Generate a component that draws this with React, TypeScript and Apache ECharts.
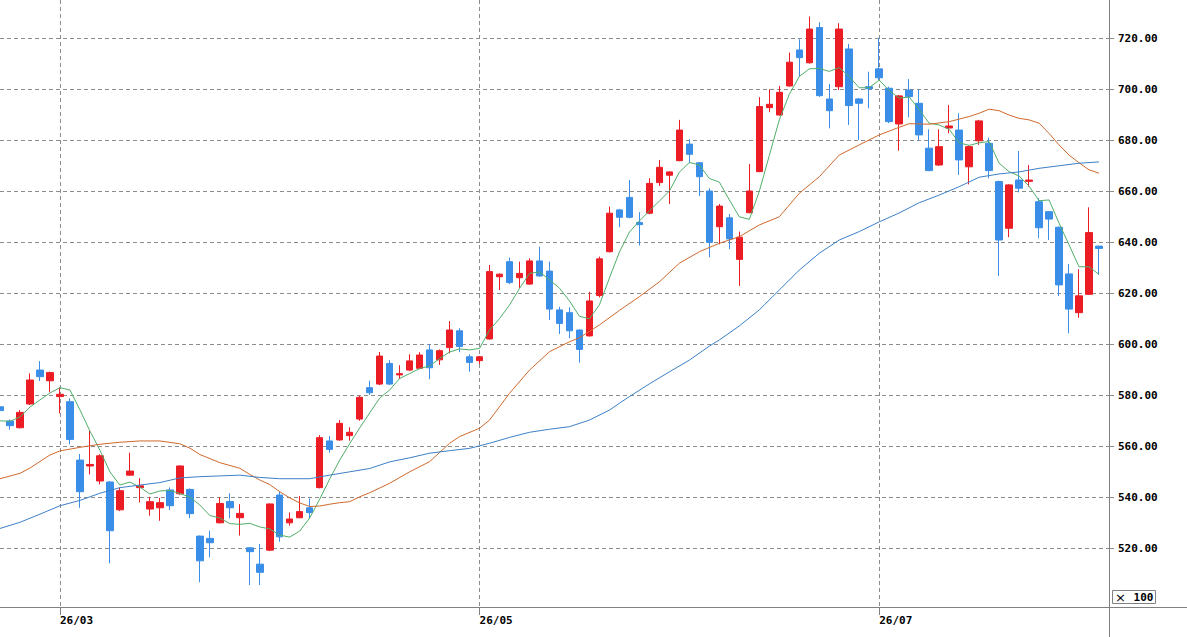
import React, { useEffect, useRef } from "react";
import * as echarts from "echarts";

// Candle data (index 0 is the partially visible candle at the left edge)
const open = [575.5,569.9,567.3,576.6,589.9,585.7,579.5,577.5,554.6,552.3,546.4,546.0,535.1,548.7,543.8,535.4,535.9,542.9,541.4,543.1,524.8,523.9,530.0,538.4,532.0,520.2,513.8,519.3,540.9,530.0,532.0,535.9,543.8,562.1,562.5,564.2,570.7,583.0,584.4,592.5,588.0,589.9,590.6,597.8,593.9,598.7,605.3,595.1,593.6,602.1,626.5,632.4,626.1,623.6,632.7,628.7,613.5,612.4,605.6,603.3,619.1,636.3,652.7,657.6,647.8,651.4,663.4,666.3,672.0,678.5,671.2,660.1,646.1,649.6,633.3,651.6,667.7,692.8,689.9,701.3,715.4,710.4,724.2,696.2,701.0,715.8,696.2,701.0,708.0,700.4,686.4,699.7,694.5,676.9,670.3,684.8,684.0,669.6,679.8,678.8,663.8,645.5,664.4,663.9,655.9,652.0,645.9,627.6,612.4,619.6,638.5];
const close = [574.0,568.1,573.3,586.0,587.3,588.9,580.4,562.7,542.2,552.9,556.3,526.9,542.6,550.3,544.5,538.3,537.9,536.7,552.3,533.6,515.1,522.2,537.6,535.9,533.7,518.7,510.6,537.4,524.5,531.5,534.4,534.0,563.4,558.8,569.0,565.5,579.2,581.0,595.4,584.4,588.5,593.5,595.8,590.8,597.5,605.6,599.1,592.9,595.1,628.5,627.5,624.2,627.8,632.7,626.8,613.8,608.2,605.3,598.0,617.0,633.5,651.4,649.8,649.8,646.9,663.1,669.4,667.6,684.0,674.5,665.7,640.0,654.2,641.3,642.0,660.1,693.2,694.1,698.8,710.6,712.4,723.6,697.5,691.6,723.6,693.6,694.5,700.2,704.5,687.3,697.4,697.1,682.1,668.1,677.5,685.6,672.3,677.5,687.6,668.1,640.9,662.5,661.2,664.4,645.7,649.1,623.3,613.8,619.0,643.8,637.6];
const low = [573.0,566.5,567.0,576.2,585.6,581.2,572.9,560.8,535.9,549.0,545.1,514.1,534.6,548.5,538.0,532.8,530.8,535.0,541.0,531.8,506.7,516.5,529.8,531.8,525.0,505.6,505.6,518.9,522.6,528.9,531.8,531.8,543.5,557.5,562.2,562.2,570.0,580.1,584.0,584.0,586.4,589.5,590.2,586.3,591.9,596.5,596.9,589.3,592.3,601.8,621.3,623.6,622.0,623.3,626.5,609.5,604.0,602.4,592.8,603.0,618.4,636.0,645.9,649.4,638.7,651.0,662.1,655.0,671.8,671.0,658.2,634.1,639.2,637.3,622.9,651.4,667.5,691.0,689.7,701.0,704.9,710.0,697.0,684.7,699.7,686.0,680.1,692.5,703.6,686.7,675.9,689.0,680.1,667.9,670.0,682.7,666.4,662.7,678.2,665.1,626.8,642.0,659.6,661.8,641.6,640.9,618.9,604.3,610.4,619.4,627.2];
const high = [576.0,570.5,574.2,588.6,593.4,589.3,583.1,578.8,557.0,566.4,556.9,546.4,543.8,557.5,547.5,540.2,539.8,543.9,552.5,543.5,525.0,526.9,540.0,541.6,537.3,520.4,521.7,537.6,542.2,534.1,540.5,539.6,564.4,564.0,570.3,567.5,579.8,585.7,597.0,593.8,591.8,596.1,596.9,600.0,598.0,609.1,606.3,596.1,595.5,631.1,627.8,634.0,632.4,633.7,638.3,632.4,614.7,614.5,605.8,620.6,634.4,654.0,653.1,664.4,651.8,665.1,672.3,667.8,688.0,680.4,671.4,661.2,655.0,651.1,644.2,670.7,696.9,700.0,701.3,714.4,719.6,728.5,726.3,702.1,725.9,717.8,696.5,706.9,720.2,701.0,697.8,704.0,700.0,684.3,684.3,693.8,690.6,678.0,688.0,681.0,664.2,662.8,675.8,670.3,657.3,652.2,646.2,631.5,629.4,653.7,638.6];

// Short moving average (green), one value per candle
const maShort = [570.0,569.8,571.5,575.4,578.2,580.9,583.0,582.1,574.3,566.0,558.5,550.0,544.8,546.0,544.0,541.3,542.5,542.7,541.5,540.1,537.0,532.9,531.9,529.7,529.4,529.8,528.4,527.6,525.2,524.4,526.8,531.9,539.3,547.2,554.6,561.0,567.2,573.1,578.9,582.1,586.6,588.5,590.5,591.5,594.4,597.0,598.2,597.8,598.4,605.6,610.1,615.4,621.9,627.8,628.4,625.3,622.0,617.0,611.0,610.0,615.5,626.0,636.2,644.0,648.4,652.3,656.2,660.1,667.5,671.3,670.3,665.0,663.6,656.6,650.0,649.0,660.0,674.0,688.0,698.0,705.0,708.0,708.2,707.0,708.5,705.0,700.6,700.6,703.6,699.5,696.5,697.0,692.0,686.7,686.0,684.3,679.0,678.0,679.0,679.5,671.0,667.7,666.0,662.0,656.3,656.6,647.5,639.0,630.4,630.4,627.4];

// Medium moving average (orange), read at candle indices
const maMidIdx = [0,2,3,5,6,8,10,12,14,16,18,19,20,22,24,25,26,27,28,29,30,31,32,33,34,35,36,37,39,41,43,45,46,48,49,51,53,55,57,58,60,62,64,66,68,70,72,74,76,78,80,82,84,86,88,90,91,93,95,97,98,99,100,101,102,103,104,105,106,107,108,109,110];
const maMidVal = [547.3,549.4,551.5,556.6,558.2,559.6,560.8,561.6,562.1,562.1,561.0,559.3,556.8,553.6,551.4,549.0,546.8,545.0,542.2,539.8,537.8,536.4,536.6,537.3,537.9,538.3,540.2,541.8,545.5,550.0,554.0,561.2,563.8,567.1,570.3,580.8,589.9,597.1,601.0,602.6,607.6,613.3,618.7,624.5,631.8,636.3,639.6,642.2,646.8,650.0,659.2,665.7,674.2,678.2,682.1,685.1,686.5,686.3,687.3,689.3,690.6,692.2,691.6,689.9,688.6,688.0,686.7,682.7,678.2,674.2,671.2,668.4,667.1];

// Long moving average (blue), read at candle indices
const maLongIdx = [0,2,4,6,8,10,12,14,16,18,20,22,24,26,28,31,33,35,37,39,41,43,45,47,49,51,53,55,57,59,61,62,63,65,67,69,71,72,74,76,78,80,82,84,86,88,90,92,94,96,98,100,102,104,106,108,110];
const maLongVal = [527.8,530.2,533.4,536.7,538.8,541.6,543.8,544.8,545.8,547.6,548.1,548.4,548.7,547.8,547.3,547.3,548.7,550.0,551.3,553.9,555.5,557.3,558.3,559.2,561.2,563.5,565.5,566.7,567.7,570.3,574.2,576.9,579.5,584.5,589.2,593.8,599.3,601.7,607.2,613.5,621.3,629.1,635.7,640.9,644.2,648.0,651.5,655.5,658.5,661.8,665.5,666.8,667.6,669.0,670.0,671.0,671.5];

// Axis ticks
const yTicks = [520, 540, 560, 580, 600, 620, 640, 660, 680, 700, 720];
const xTickIdx = [6, 48, 88];
const xTickLabels = ["26/03", "26/05", "26/07"];
const categoryCount = 112;

const RED = "#ec1c24";
const BLUE = "#3a8ee8";
const GRID = "#8c8c8c";
const AXIS = "#808080";
const FONT = "'DejaVu Sans Mono', monospace";

export default function App() {
  const ref = useRef<HTMLDivElement>(null);
  useEffect(() => {
    if (!ref.current) return;
    const chart = echarts.init(ref.current, null, { renderer: "svg" });
    const categories = Array.from({ length: categoryCount }, (_, i) => String(i));
    const candles = open.map((o, i) => [o, close[i], low[i], high[i]]);
    const isTick = (i: number) => xTickIdx.indexOf(i) >= 0;
    chart.setOption({
      animation: false,
      backgroundColor: "#ffffff",
      grid: { left: -1, right: 78, top: 0, bottom: 30 },
      xAxis: {
        type: "category",
        data: categories,
        boundaryGap: false,
        axisLine: { show: true, lineStyle: { color: AXIS, width: 1 } },
        axisTick: { show: true, interval: (i: number) => isTick(i), length: 8, lineStyle: { color: AXIS } },
        axisLabel: {
          interval: (i: number) => isTick(i),
          formatter: (v: string) => {
            const k = xTickIdx.indexOf(Number(v));
            return k >= 0 ? xTickLabels[k] : "";
          },
          align: "left",
          margin: 8,
          fontFamily: FONT,
          fontWeight: "bold",
          fontSize: 11,
          color: "#000",
        },
        splitLine: { show: true, interval: (i: number) => isTick(i), lineStyle: { color: GRID, type: [4, 3], width: 1 } },
      },
      yAxis: {
        type: "value",
        position: "right",
        min: 497,
        max: 735,
        scale: true,
        axisLine: { show: true, lineStyle: { color: AXIS, width: 1 } },
        axisTick: { show: true, customValues: yTicks, length: 5, lineStyle: { color: GRID } },
        axisLabel: {
          customValues: yTicks,
          formatter: (v: number) => v.toFixed(2),
          margin: 9,
          fontFamily: FONT,
          fontWeight: "bold",
          fontSize: 11,
          color: "#000",
        },
        splitLine: { show: true, lineStyle: { color: GRID, type: [4, 3], width: 1 } },
      },
      series: [
        {
          type: "candlestick",
          data: candles,
          barWidth: 7,
          itemStyle: { color: RED, color0: BLUE, borderColor: RED, borderColor0: BLUE, borderWidth: 1 },
        },
        {
          type: "line",
          data: maShort.map((v, i) => [i, v]),
          symbol: "none",
          lineStyle: { color: "#4fae68", width: 1 },
          z: 3,
        },
        {
          type: "line",
          data: maMidIdx.map((k, i) => [k, maMidVal[i]]),
          symbol: "none",
          lineStyle: { color: "#d0692c", width: 1 },
          z: 3,
        },
        {
          type: "line",
          data: maLongIdx.map((k, i) => [k, maLongVal[i]]),
          symbol: "none",
          lineStyle: { color: "#3c80c6", width: 1 },
          z: 3,
        },
      ],
      graphic: [
        { type: "line", shape: { x1: 1109, y1: 607.5, x2: 1187, y2: 607.5 }, style: { stroke: AXIS, lineWidth: 1 }, z: 10 },
        { type: "line", shape: { x1: 1109.5, y1: 607, x2: 1109.5, y2: 637 }, style: { stroke: AXIS, lineWidth: 1 }, z: 10 },
        {
          type: "rect",
          shape: { x: 1112.5, y: 590.5, width: 43, height: 13 },
          style: { fill: "#fff", stroke: AXIS, lineWidth: 1 },
          z: 10,
        },
        {
          type: "text",
          x: 1115,
          y: 597.5,
          style: {
            text: "{m|×}{n| 100}",
            verticalAlign: "middle",
            rich: {
              m: { fontFamily: "'DejaVu Sans', sans-serif", fontSize: 13, fill: "#000", width: 12 },
              n: { fontFamily: FONT, fontWeight: "bold", fontSize: 11, fill: "#000" },
            },
          },
          z: 11,
        },
      ],
    });
    return () => chart.dispose();
  }, []);
  return (
    <div
      ref={ref}
      style={{ position: "fixed", left: 0, top: 0, width: 1187, height: 637, background: "#fff" }}
    />
  );
}
